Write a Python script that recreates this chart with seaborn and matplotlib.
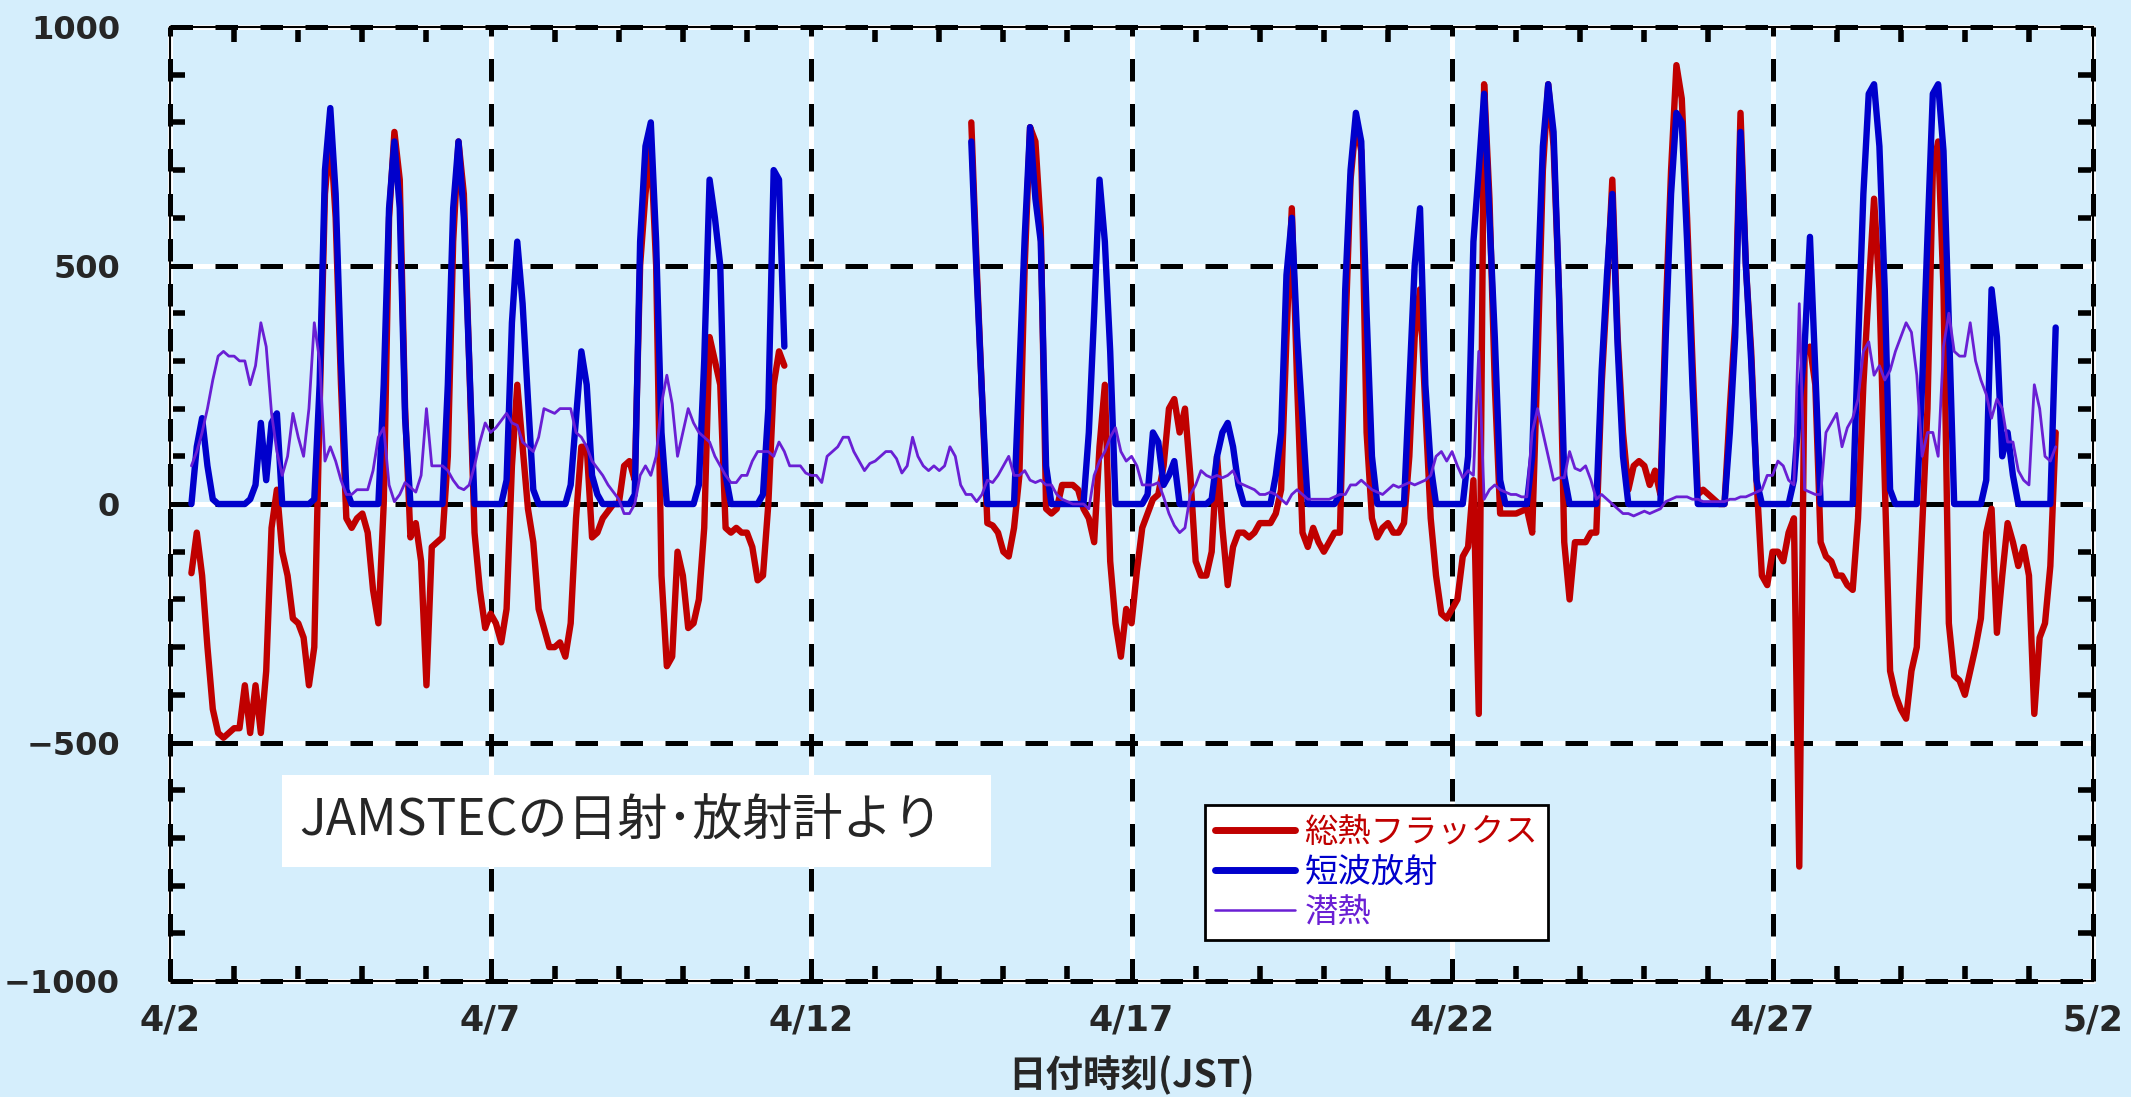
import numpy as np
import pandas as pd
import matplotlib
matplotlib.use('Agg')
import matplotlib.pyplot as plt
import seaborn as sns
from matplotlib.lines import Line2D
from matplotlib.patches import Rectangle
from matplotlib.ticker import MultipleLocator
from matplotlib.font_manager import FontProperties

nan = np.nan

# 2時間ごとの値 (W/m2)、4/2 0時から 5/1 10時まで
day_labels = ['4/2', '4/7', '4/12', '4/17', '4/22', '4/27', '5/2']
y_labels = ['\u22121000', '\u2212500', '0', '500', '1000']
series_names = ['総熱フラックス', '短波放射', '潜熱']

total_flux = [
    nan, nan, nan, nan, -145, -60, -150, -300, -430, -480, -490, -480,  # 4/2
    -470, -470, -380, -480, -380, -480, -350, -50, 30, -100, -150, -240,  # 4/3
    -250, -280, -380, -300, 200, 650, 780, 600, 250, -30, -50, -30,  # 4/4
    -20, -60, -180, -250, 0, 600, 780, 680, 200, -70, -40, -120,  # 4/5
    -380, -90, -80, -70, 100, 550, 760, 650, 300, -60, -180, -260,  # 4/6
    -230, -250, -290, -220, 80, 250, 120, -10, -80, -220, -260, -300,  # 4/7
    -300, -290, -320, -250, -30, 120, 120, -70, -60, -30, -15, 0,  # 4/8
    0, 80, 90, 50, 500, 650, 750, 500, -150, -340, -320, -100,  # 4/9
    -150, -260, -250, -200, -50, 350, 300, 250, -50, -60, -50, -60,  # 4/10
    -60, -90, -160, -150, 0, 250, 320, 290, nan, nan, nan, nan,  # 4/11
    nan, nan, nan, nan, nan, nan, nan, nan, nan, nan, nan, nan,  # 4/12
    nan, nan, nan, nan, nan, nan, nan, nan, nan, nan, nan, nan,  # 4/13
    nan, nan, nan, nan, nan, nan, 800, 500, 230, -40, -45, -60,  # 4/14
    -100, -110, -50, 60, 500, 790, 760, 580, -10, -20, -10, 40,  # 4/15
    40, 40, 30, -10, -30, -80, 120, 250, -120, -250, -320, -220,  # 4/16
    -250, -140, -50, -20, 10, 20, 80, 200, 220, 150, 200, 60,  # 4/17
    -120, -150, -150, -100, 100, -50, -170, -90, -60, -60, -70, -60,  # 4/18
    -40, -40, -40, -20, 30, 350, 620, 250, -60, -90, -50, -80,  # 4/19
    -100, -80, -60, -60, 350, 680, 800, 740, 150, -30, -70, -50,  # 4/20
    -40, -60, -60, -40, 100, 350, 450, 200, -30, -150, -230, -240,  # 4/21
    -220, -200, -110, -90, 50, -440, 880, 640, 250, -20, -20, -20,  # 4/22
    -20, -15, -10, -60, 300, 700, 880, 750, 450, -80, -200, -80,  # 4/23
    -80, -80, -60, -60, 250, 450, 680, 350, 150, 30, 80, 90,  # 4/24
    80, 40, 70, 20, 400, 700, 920, 850, 600, 300, 20, 30,  # 4/25
    20, 10, 0, 0, 200, 380, 820, 500, 320, 50, -150, -170,  # 4/26
    -100, -100, -120, -60, -30, -760, 320, 330, 250, -80, -110, -120,  # 4/27
    -150, -150, -170, -180, -30, 250, 450, 640, 450, 50, -350, -400,  # 4/28
    -430, -450, -350, -300, -50, 200, 700, 760, 450, -250, -360, -370,  # 4/29
    -400, -350, -300, -240, -60, -10, -270, -150, -40, -80, -130, -90,  # 4/30
    -150, -440, -280, -250, -130, 150,  # 5/1
]

shortwave = [
    nan, nan, nan, nan, 0, 120, 180, 80, 10, 0, 0, 0,  # 4/2
    0, 0, 0, 10, 40, 170, 50, 170, 190, 0, 0, 0,  # 4/3
    0, 0, 0, 10, 250, 700, 830, 650, 300, 30, 0, 0,  # 4/4
    0, 0, 0, 0, 250, 620, 760, 620, 180, 0, 0, 0,  # 4/5
    0, 0, 0, 0, 250, 620, 760, 600, 300, 0, 0, 0,  # 4/6
    0, 0, 0, 50, 380, 550, 420, 220, 30, 0, 0, 0,  # 4/7
    0, 0, 0, 40, 180, 320, 250, 60, 20, 0, 0, 0,  # 4/8
    0, 0, 0, 20, 550, 750, 800, 550, 150, 0, 0, 0,  # 4/9
    0, 0, 0, 40, 300, 680, 600, 500, 60, 0, 0, 0,  # 4/10
    0, 0, 0, 20, 200, 700, 680, 330, nan, nan, nan, nan,  # 4/11
    nan, nan, nan, nan, nan, nan, nan, nan, nan, nan, nan, nan,  # 4/12
    nan, nan, nan, nan, nan, nan, nan, nan, nan, nan, nan, nan,  # 4/13
    nan, nan, nan, nan, nan, nan, 760, 480, 230, 0, 0, 0,  # 4/14
    0, 0, 0, 280, 560, 790, 640, 550, 80, 0, 0, 0,  # 4/15
    0, 0, 0, 0, 150, 400, 680, 550, 320, 0, 0, 0,  # 4/16
    0, 0, 0, 20, 150, 130, 40, 60, 90, 0, 0, 0,  # 4/17
    0, 0, 0, 10, 100, 150, 170, 120, 40, 0, 0, 0,  # 4/18
    0, 0, 0, 60, 150, 480, 600, 350, 180, 0, 0, 0,  # 4/19
    0, 0, 0, 20, 450, 700, 820, 760, 400, 100, 0, 0,  # 4/20
    0, 0, 0, 0, 250, 500, 620, 250, 80, 0, 0, 0,  # 4/21
    0, 0, 0, 100, 550, 700, 860, 600, 350, 50, 0, 0,  # 4/22
    0, 0, 0, 100, 450, 750, 880, 780, 450, 60, 0, 0,  # 4/23
    0, 0, 0, 0, 280, 480, 650, 330, 100, 0, 0, 0,  # 4/24
    0, 0, 0, 0, 350, 650, 820, 800, 550, 250, 0, 0,  # 4/25
    0, 0, 0, 0, 150, 350, 780, 500, 300, 50, 0, 0,  # 4/26
    0, 0, 0, 0, 50, 200, 330, 560, 280, 0, 0, 0,  # 4/27
    0, 0, 0, 0, 330, 650, 860, 880, 750, 450, 30, 0,  # 4/28
    0, 0, 0, 0, 250, 560, 860, 880, 740, 380, 0, 0,  # 4/29
    0, 0, 0, 0, 50, 450, 350, 100, 150, 60, 0, 0,  # 4/30
    0, 0, 0, 0, 0, 370,  # 5/1
]

latent = [
    nan, nan, nan, nan, 80, 110, 150, 200, 260, 310, 320, 310,  # 4/2
    310, 300, 300, 250, 290, 380, 330, 190, 110, 60, 100, 190,  # 4/3
    140, 100, 200, 380, 300, 90, 120, 90, 50, 20, 20, 30,  # 4/4
    30, 30, 70, 140, 160, 40, 5, 20, 45, 35, 25, 60,  # 4/5
    200, 80, 80, 80, 70, 50, 35, 30, 40, 80, 130, 170,  # 4/6
    150, 160, 175, 190, 170, 165, 130, 120, 110, 140, 200, 195,  # 4/7
    190, 200, 200, 200, 150, 140, 120, 90, 75, 60, 40, 25,  # 4/8
    10, -20, -20, 0, 60, 80, 60, 100, 210, 270, 210, 100,  # 4/9
    150, 200, 170, 150, 140, 130, 100, 80, 60, 45, 45, 60,  # 4/10
    60, 90, 110, 110, 110, 100, 130, 110, 80, 80, 80, 65,  # 4/11
    60, 60, 45, 100, 110, 120, 140, 140, 110, 90, 70, 85,  # 4/12
    90, 100, 110, 110, 95, 65, 80, 140, 100, 80, 70, 80,  # 4/13
    70, 80, 120, 100, 40, 20, 20, 5, 20, 50, 45, 60,  # 4/14
    80, 100, 60, 60, 70, 50, 45, 50, 40, 40, 20, 10,  # 4/15
    5, 0, 0, 0, -10, 60, 90, 110, 140, 160, 110, 90,  # 4/16
    100, 80, 40, 40, 40, 45, 15, -20, -45, -60, -50, 20,  # 4/17
    40, 70, 60, 55, 60, 55, 60, 70, 45, 40, 35, 30,  # 4/18
    20, 20, 25, 20, 10, 0, 20, 30, 20, 10, 10, 10,  # 4/19
    10, 10, 15, 20, 20, 40, 40, 50, 40, 30, 25, 20,  # 4/20
    30, 40, 35, 40, 45, 40, 45, 50, 60, 100, 110, 90,  # 4/21
    110, 80, 55, 70, 60, 320, 10, 30, 40, 30, 25, 20,  # 4/22
    20, 15, 15, 150, 200, 150, 100, 50, 55, 55, 110, 75,  # 4/23
    70, 80, 50, 10, 20, 10, 0, -10, -20, -20, -25, -20,  # 4/24
    -15, -20, -15, -10, 5, 10, 15, 15, 15, 10, 10, 5,  # 4/25
    5, 5, 5, 5, 10, 10, 15, 15, 20, 25, 30, 60,  # 4/26
    60, 90, 80, 50, 40, 420, 30, 25, 20, 20, 150, 170,  # 4/27
    190, 120, 160, 180, 220, 320, 340, 270, 290, 260, 280, 320,  # 4/28
    350, 380, 360, 270, 100, 150, 150, 100, 330, 400, 320, 310,  # 4/29
    310, 380, 300, 260, 230, 180, 220, 200, 130, 130, 70, 50,  # 4/30
    40, 250, 200, 100, 90, 120,  # 5/1
]

bg = '#d5eefc'
red = '#c00000'
blue = '#0000cc'
purple = '#6a1fd4'

sns.set_style('white')
plt.rcParams['font.family'] = ['DejaVu Sans', 'Noto Sans CJK JP']
jp = ['Noto Sans CJK JP', 'DejaVu Sans']


def to_frame(values):
    df = pd.DataFrame({'v': values})
    df['t'] = np.arange(len(df)) * 2 / 24
    df['seg'] = df['v'].isna().cumsum()
    return df.dropna()


fig = plt.figure(figsize=(21.31, 10.97), dpi=100, facecolor=bg)
ax = fig.add_axes([0.0798, 0.1057, 0.9024, 0.8697])
ax.set_facecolor(bg)

# grid (white under black dashes)
for xv in range(0, 31, 5):
    ax.axvline(xv, color='white', lw=3.6, zorder=1, clip_on=False)
    ax.axvline(xv, color='black', lw=3.6, ls=(0, (4.5, 4.5)), zorder=1.1, clip_on=False)
for yv in range(-1000, 1001, 500):
    ax.axhline(yv, color='white', lw=3.6, zorder=1, clip_on=False)
    ax.axhline(yv, color='black', lw=3.6, ls=(0, (4.5, 4.5)), zorder=1.1, clip_on=False)

sns.lineplot(data=to_frame(total_flux), x='t', y='v', units='seg', estimator=None,
             color=red, lw=4.6, ax=ax, zorder=2)
sns.lineplot(data=to_frame(shortwave), x='t', y='v', units='seg', estimator=None,
             color=blue, lw=4.6, ax=ax, zorder=3)
sns.lineplot(data=to_frame(latent), x='t', y='v', units='seg', estimator=None,
             color=purple, lw=2.0, ax=ax, zorder=4)

ax.set_xlim(0, 30)
ax.set_ylim(-1000, 1000)
ax.set_xticks(range(0, 31, 5))
ax.set_xticklabels(day_labels)
ax.set_yticks(range(-1000, 1001, 500))
ax.set_yticklabels(y_labels)
ax.xaxis.set_minor_locator(MultipleLocator(1))
ax.yaxis.set_minor_locator(MultipleLocator(100))
ax.tick_params(which='major', length=0)
ax.tick_params(axis='y', which='major', pad=36, labelsize=23)
ax.tick_params(axis='x', which='major', pad=16, labelsize=25)
ax.tick_params(which='minor', direction='in', length=11, width=4, color='black',
               top=True, right=True, bottom=True, left=True)
for lab in ax.get_xticklabels() + ax.get_yticklabels():
    lab.set_fontweight('bold')

for s in ax.spines.values():
    s.set_color('black')
    s.set_linewidth(1.5)
    s.set_zorder(6)

ax.set_ylabel('')
ax.set_xlabel('日付時刻(JST)', family=jp, fontsize=27, fontweight='bold', labelpad=13)

# annotation box
ax.add_patch(Rectangle((0.058, 0.12), 0.369, 0.096, transform=ax.transAxes,
                       facecolor='white', edgecolor='none', zorder=5))
ax.text(0.067, 0.168, 'JAMSTECの日射･放射計より', transform=ax.transAxes,
        family=jp, fontsize=36, va='center', ha='left', zorder=6)

handles = [Line2D([], [], color=red, lw=5),
           Line2D([], [], color=blue, lw=5),
           Line2D([], [], color=purple, lw=1.8)]
leg = ax.legend(handles, series_names, loc='lower left', bbox_to_anchor=(0.538, 0.043),
                frameon=True, fancybox=False, framealpha=1, edgecolor='black',
                prop=FontProperties(family=jp, size=24), labelcolor=[red, blue, purple],
                handlelength=2.4, handletextpad=0.3, borderpad=0.3, labelspacing=0.15,
                borderaxespad=0)
leg.get_frame().set_linewidth(2)
leg.set_zorder(7)

fig.savefig('out.png', dpi=100, facecolor=bg)
